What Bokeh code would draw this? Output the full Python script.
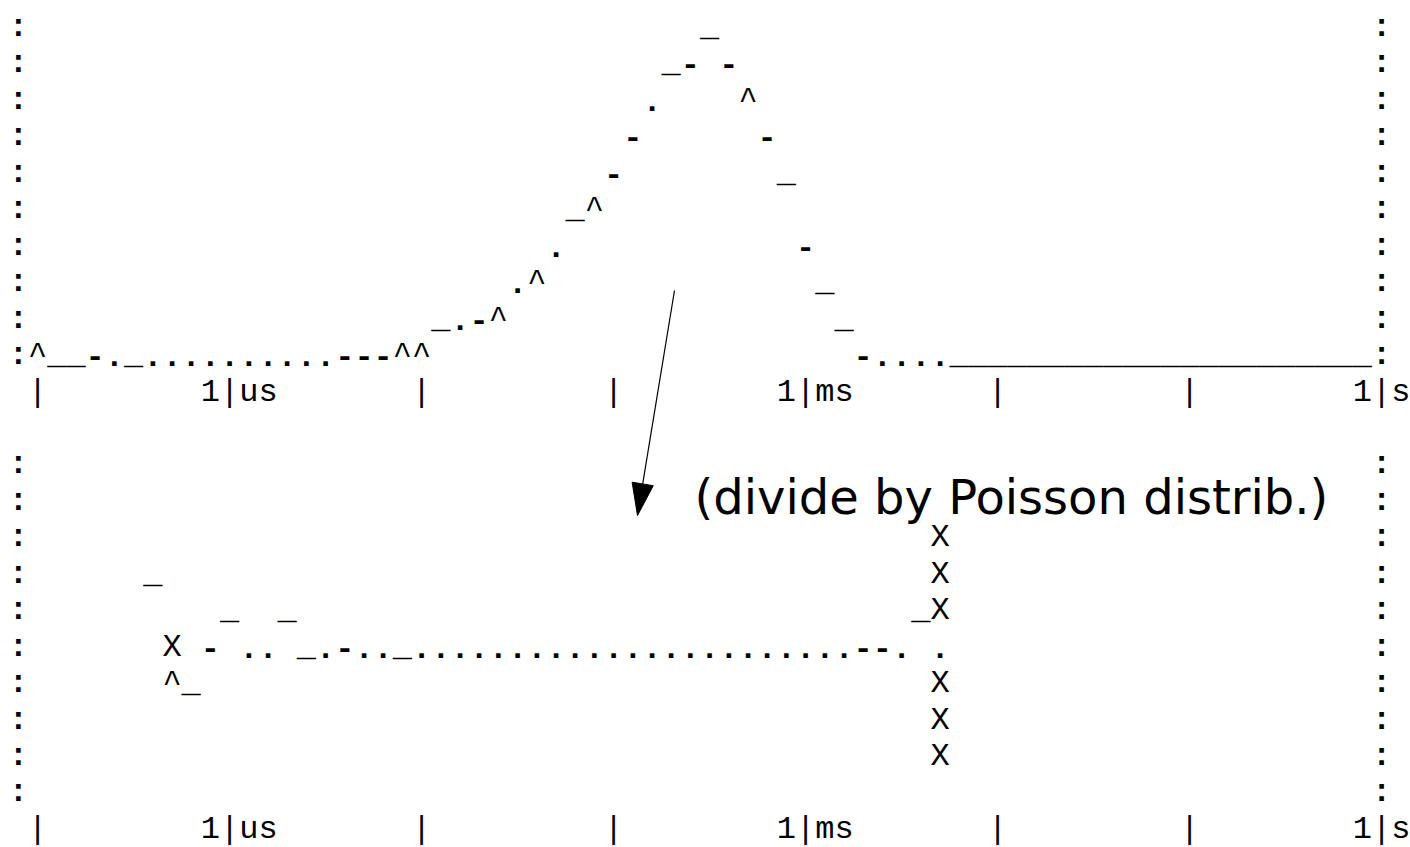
import math
from bokeh.plotting import figure
from bokeh.models import Range1d, ColumnDataSource
from bokeh.core.properties import value
from bokeh.embed import file_html
from bokeh.resources import INLINE

# ---------------- data ----------------
# time bins: 10 bins per decade, bin 1 = 100 ns, bin 11 = 1 us, bin 41 = 1 ms, bin 71 = 1 s
top_bins = list(range(1, 71))
# histogram level per bin (4 sub-levels per text row: _ . - ^)
top_levels = [3, 0, 0, 2, 1, 0, 1, 1, 1, 1,
              1, 1, 1, 1, 1, 1, 2, 2, 2, 3,
              3, 4, 5, 6, 7, 9, 11, 13, 16, 19,
              22, 26, 29, 32, 34, 36, 34, 31, 26, 20,
              14, 8, 4, 2, 1, 1, 1, 1, 0, 0,
              0, 0, 0, 0, 0, 0, 0, 0, 0, 0,
              0, 0, 0, 0, 0, 0, 0, 0, 0, 0]

bottom_bins = list(range(7, 49))
bottom_levels = [24, 15, 12, 18, 20, 17, 17, 20, 16, 17,
                 18, 17, 17, 16, 17, 17, 17, 17, 17, 17,
                 17, 17, 17, 17, 17, 17, 17, 17, 17, 17,
                 17, 17, 17, 17, 17, 17, 17, 18, 18, 17,
                 20, 17]

# "X" marks in the lower panel (bin, text row within panel)
x_mark_bins = [8, 48, 48, 48, 48, 48, 48]
x_mark_rows = [5, 2, 3, 4, 6, 7, 8]

# axis
tick_bins = [1, 11, 21, 31, 41, 51, 61, 71]
label_bins = [11, 41, 71]
label_texts = ["1|us", "1|ms", "1|s"]

annotation_text = "(divide by Poisson distrib.)"

# ---------------- layout ----------------
PANEL_ROWS = 10
LEFT_COL, RIGHT_COL = 0, 71
TOP_OFFSET, BOTTOM_OFFSET = 0, 12
LEVEL_CHARS = "_.-^"
HEAVY = set(":._-")

CW, LH = 19.2, 36.45         # px per column / per text row
OX, OY = 17.9, 27.0          # page px of column 0 centre / row 0 baseline
W, H = 1410, 847


def colx(px):
    return (px - OX) / CW


def rowy(py):
    return (py - OY) / LH


heavy = dict(x=[], y=[], t=[])
light = dict(x=[], y=[], t=[])


def put(c, r, t):
    d = heavy if t in HEAVY else light
    d["x"].append(c)
    d["y"].append(r)
    d["t"].append(t)


def panel(offset, bins, levels):
    for r in range(PANEL_ROWS):
        put(LEFT_COL, offset + r, ":")
        put(RIGHT_COL, offset + r, ":")
    for b, lv in zip(bins, levels):
        row = offset + (PANEL_ROWS - 1) - lv // 4
        put(b, row, LEVEL_CHARS[lv % 4])


def axis_row(offset):
    r = offset + PANEL_ROWS
    for b in tick_bins:
        if b not in label_bins:
            put(b, r, "|")
    for b, s in zip(label_bins, label_texts):
        start = b - s.index("|")
        put(start + (len(s) - 1) / 2, r, s)


panel(TOP_OFFSET, top_bins, top_levels)
axis_row(TOP_OFFSET)
panel(BOTTOM_OFFSET, bottom_bins, bottom_levels)
for b, r in zip(x_mark_bins, x_mark_rows):
    put(b, BOTTOM_OFFSET + r, "X")
axis_row(BOTTOM_OFFSET)

p = figure(width=W, height=H,
           x_range=Range1d(colx(0), colx(W)),
           y_range=Range1d(rowy(H), rowy(0)),
           x_axis_type=None, y_axis_type=None,
           output_backend="svg", toolbar_location=None, min_border=0)
p.grid.visible = False
p.outline_line_color = None
p.background_fill_color = "white"
p.border_fill_color = "white"

for d, style in ((heavy, "bold"), (light, "normal")):
    p.text(x="x", y="y", text="t", source=ColumnDataSource(d),
           text_font=value("Liberation Mono"), text_font_size="32px",
           text_font_style=style,
           text_align="center", text_baseline="alphabetic", text_color="black")

# annotation text
p.text(x=[colx(694)], y=[rowy(496)], text=[annotation_text],
       text_font=value("DejaVu Sans"), text_font_size="48px",
       text_align="left", text_baseline="alphabetic", text_color="black")

# arrow (page px geometry)
sx, sy = 674.0, 290.0
tx, ty = 637.0, 515.0
L = math.hypot(tx - sx, ty - sy)
dx, dy = (tx - sx) / L, (ty - sy) / L
hl, hw = 32.0, 10.7
bx, by = tx - dx * hl, ty - dy * hl
nx, ny = -dy, dx
p.line(x=[colx(sx), colx(bx)], y=[rowy(sy), rowy(by)], line_color="black", line_width=1.2)
p.patch(x=[colx(tx), colx(bx + nx * hw), colx(bx - nx * hw)],
        y=[rowy(ty), rowy(by + ny * hw), rowy(by - ny * hw)],
        fill_color="black", line_color="black", line_width=1)

open("out.html", "w").write(file_html(p, INLINE))
